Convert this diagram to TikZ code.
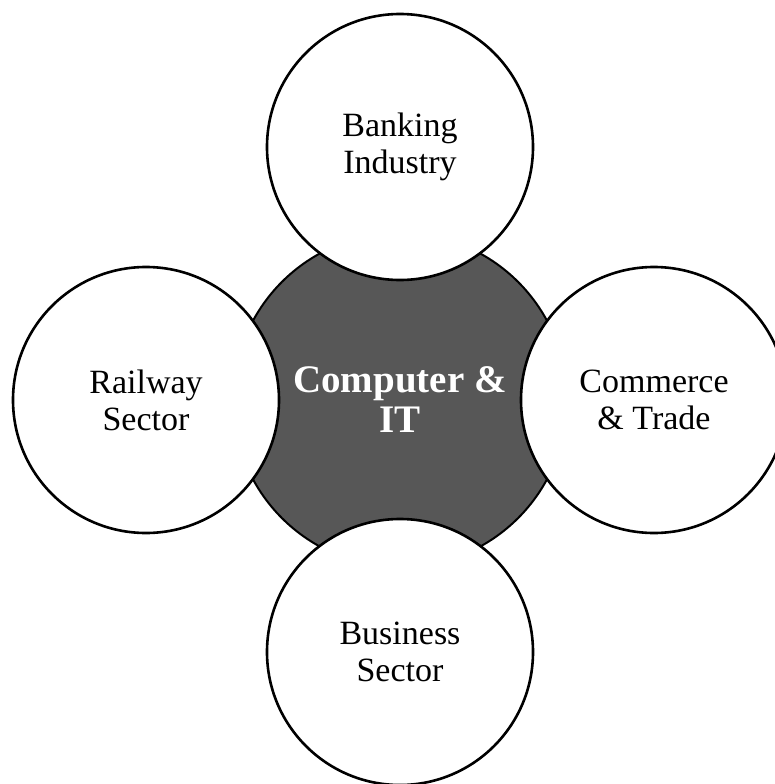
\documentclass[tikz,border=0pt]{standalone}
\usepackage{fontspec}
\setmainfont{Liberation Serif}
\definecolor{hubgray}{RGB}{87,87,87}
\tikzset{
  hub/.style={circle, draw=black, line width=2pt, fill=hubgray, text=white,
    minimum size=334pt, inner sep=0pt, align=center,
    font=\fontsize{39}{40}\selectfont\bfseries},
  sat/.style={circle, draw=black, line width=2.6pt, fill=white, text=black,
    minimum size=266pt, inner sep=0pt, align=center,
    font=\fontsize{34}{37}\selectfont}
}
\begin{document}
\begin{tikzpicture}[x=1pt,y=-1pt]
\useasboundingbox (0,0) rectangle (775,784);
\node[hub] (hub) at (400,400) {Computer \&\\IT};
\node[sat] (bank) at (400,147) {Banking\\Industry};
\node[sat] (rail) at (146,400) {Railway\\Sector};
\node[sat] (comm) at (654,400) {Commerce\\\& Trade};
\node[sat] (bus) at (400,652) {Business\\Sector};
\end{tikzpicture}
\end{document}
